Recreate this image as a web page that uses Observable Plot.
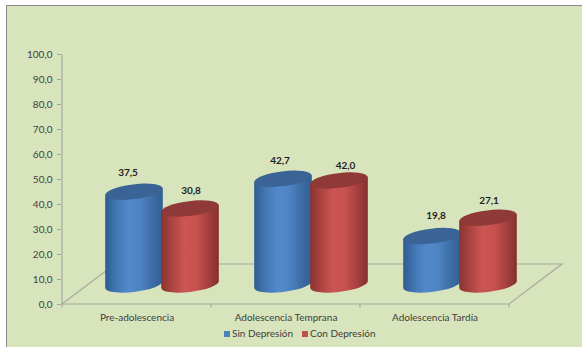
<!DOCTYPE html>
<html>
<head>
<meta charset="utf-8">
<script src="https://cdn.jsdelivr.net/npm/d3@7"></script>
<script src="https://cdn.jsdelivr.net/npm/@observablehq/plot@0.6"></script>
<style>
  html, body { margin: 0; padding: 0; background: #fff; width: 582px; height: 347px; overflow: hidden; }
  #panel { position: absolute; left: 6px; top: 5px; right: 0; bottom: 0; background: #d8e4bc;
           border-left: 1.5px solid #8a8a8a; border-top: 1.5px solid #8a8a8a; }
  #chart { position: absolute; left: 0; top: 0; }
  #legend { position: absolute; left: 224px; top: 326px; display: flex; gap: 9px;
            font: 10px Lato, sans-serif; color: #404040; line-height: 15px; }
  #legend span { display: inline-flex; align-items: center; gap: 2px; }
  #legend i { display: inline-block; width: 6px; height: 6px; }
</style>
</head>
<body>
<div id="panel"></div>
<div id="chart"></div>
<div id="legend"></div>
<script>
// Porcentaje de adolescentes por etapa, con y sin depresión
const etapas = ["Pre-adolescencia", "Adolescencia Temprana", "Adolescencia Tardía"];
const sinDepresion = [37.5, 42.7, 19.8];
const conDepresion = [30.8, 42.0, 27.1];
const series = ["Sin Depresión", "Con Depresión"];
const valoresY = [0, 10, 20, 30, 40, 50, 60, 70, 80, 90, 100];

const coma = (v) => v.toFixed(1).replace(".", ",");

const filas = etapas.flatMap((etapa, i) => [
  {etapa, serie: series[0], valor: sinDepresion[i]},
  {etapa, serie: series[1], valor: conDepresion[i]}
]);

// Aspecto del gráfico en perspectiva
const gridColor = "#a6ab9f";
const inkColor = "#404040";
const depthX = 53, depthY = 40;      // fondo del suelo respecto al eje frontal
const baseLift = 18.5;               // elevación de la tapa respecto al eje frontal
const baseRaise = 1;                 // ajuste del borde inferior del cilindro
const rx = 29, ry = 7.4, tiltDeg = -7;
const offsetBySerie = {[series[0]]: -2.5, [series[1]]: 53.5};
const palette = {
  [series[0]]: {cap: "#3a6496", stops: ["#2f5c92", "#4377b4", "#5388cb", "#4f84c4", "#3f6fa8", "#315f95"]},
  [series[1]]: {cap: "#8f3a38", stops: ["#8a3331", "#ad4543", "#cb5553", "#c9524f", "#a84240", "#84302e"]}
};
// Pequeños ajustes de cada rótulo de valor: [dx, dy]
const labelNudge = [[-6.5, -38], [0.5, -37], [-3.5, -36.5], [6, -34], [3.5, -39], [0.5, -36]];

function defs() {
  const ns = d3.create("svg:defs");
  for (const [i, s] of series.entries()) {
    const g = ns.append("linearGradient").attr("id", `cyl${i}`);
    palette[s].stops.forEach((c, k, a) =>
      g.append("stop").attr("offset", k / (a.length - 1)).attr("stop-color", c));
  }
  return ns.node();
}

const bandStep = (x) => x(etapas[1]) - x(etapas[0]);

// Suelo en perspectiva, eje vertical y marcas del eje horizontal
function floor(index, {x, y}) {
  const x0 = x(etapas[0]);
  const step = bandStep(x);
  const xs = etapas.map((e) => x(e)).concat(x0 + step * etapas.length);
  const x1 = xs[xs.length - 1];
  const y0 = y(0);
  const g = d3.create("svg:g").attr("fill", "none").attr("stroke", gridColor).attr("stroke-width", 1.2);
  g.append("path").attr("d",
    `M${x0},${y0}L${x0 + depthX},${y0 - depthY}L${x1 + depthX},${y0 - depthY}L${x1},${y0}Z`);
  g.append("path").attr("d", `M${x0},${y(100)}V${y0}`);
  for (const v of xs) g.append("path").attr("d", `M${v},${y0}v3.5`);
  return g.node();
}

// Un cilindro por fila: cuerpo con degradado y tapa superior
function cylinders(index, {x, y}) {
  const g = d3.create("svg:g");
  const th = tiltDeg * Math.PI / 180;
  const t = Math.atan(-(ry / rx) * Math.tan(th));
  const ex = rx * Math.cos(t) * Math.cos(th) - ry * Math.sin(t) * Math.sin(th);
  const ey = rx * Math.cos(t) * Math.sin(th) + ry * Math.sin(t) * Math.cos(th);
  const step = bandStep(x);
  for (const d of filas) {
    const cx = x(d.etapa) + step / 2 + offsetBySerie[d.serie];
    const yBase = y(0) - baseLift - baseRaise;
    const yTop = y(d.valor) - baseLift;
    const i = series.indexOf(d.serie);
    g.append("path")
      .attr("fill", `url(#cyl${i})`)
      .attr("d", `M${cx - ex},${yTop - ey}L${cx - ex},${yBase - ey}` +
                 `A${rx},${ry} ${tiltDeg} 0 0 ${cx + ex},${yBase + ey}` +
                 `L${cx + ex},${yTop + ey}Z`);
    g.append("ellipse")
      .attr("fill", palette[d.serie].cap)
      .attr("rx", rx).attr("ry", ry)
      .attr("transform", `translate(${cx},${yTop}) rotate(${tiltDeg})`);
  }
  return g.node();
}

const chart = Plot.plot({
  width: 582,
  height: 325,
  marginLeft: 61,
  marginRight: 73,
  marginTop: 54,
  marginBottom: 21,
  style: {background: "transparent", fontFamily: "Lato, sans-serif", fontSize: "10px", color: inkColor},
  x: {type: "band", domain: etapas, padding: 0, label: null},
  y: {domain: [0, 100], label: null},
  marks: [
    () => defs(),
    floor,
    cylinders,
    Plot.axisY({ticks: valoresY, tickFormat: coma, tickSize: 4, tickPadding: 5, stroke: gridColor, fill: inkColor, label: null, textStroke: "none"}),
    Plot.axisX({tickSize: 0, tickPadding: 9, fill: inkColor, label: null}),
    ...filas.map((d, i) =>
      Plot.text([d], {
        x: "etapa", y: "valor", text: (r) => coma(r.valor),
        dx: offsetBySerie[d.serie] + labelNudge[i][0],
        dy: labelNudge[i][1],
        fontWeight: "bold", fill: "#1f1f1f"
      }))
  ]
});
document.getElementById("chart").append(chart);

// Leyenda bajo el gráfico
const legend = d3.select("#legend");
series.forEach((s) => {
  const item = legend.append("span");
  item.append("i").style("background", s === series[0] ? "#4f81bd" : "#c0504d");
  item.append("text").text(s);
});
</script>
</body>
</html>
